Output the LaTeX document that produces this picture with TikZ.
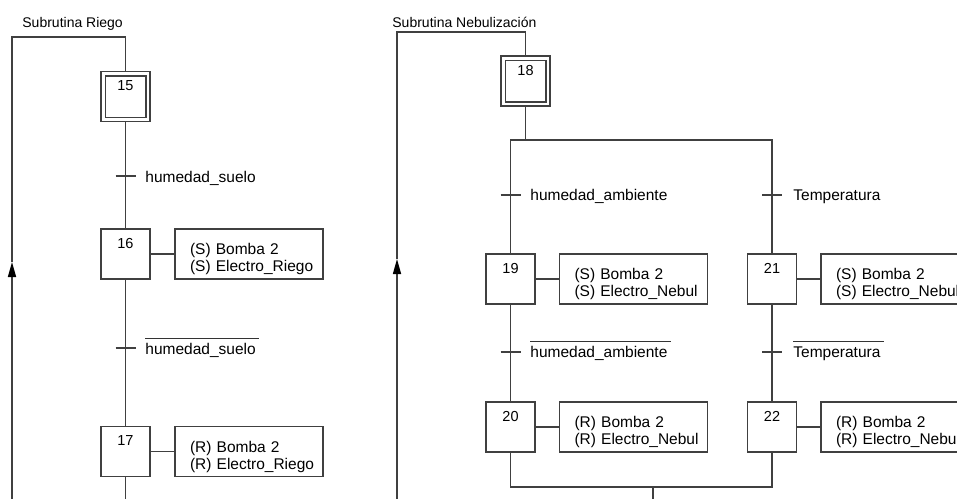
\documentclass[tikz,border=0pt]{standalone}
\usepackage{fontspec}
\setmainfont{Liberation Sans}
\usetikzlibrary{arrows.meta}
\hfuzz=4pt
\hyphenpenalty=10000
\newcommand{\firstline}{\rule{0pt}{11pt}}
\newcommand{\actlines}[2]{\firstline\mbox{#1}\\\mbox{#2}}
\begin{document}
\begin{tikzpicture}[x=0.5pt,y=-0.5pt,
  wire/.style={draw=black!75,line width=0.75pt},
  stepbox/.style={wire,rectangle,minimum width=24.5pt,minimum height=25pt,inner sep=0pt,
    text height=9.5pt,text depth=15.5pt,font=\fontsize{7.25}{8}\selectfont},
  actbox/.style={wire,rectangle,minimum width=74pt,minimum height=25pt,inner xsep=7.5pt,
    inner ysep=0pt,text width=59pt,align=left,font=\fontsize{7.75}{8.5}\selectfont},
  cond/.style={inner sep=0pt,anchor=base west,font=\fontsize{7.75}{8.5}\selectfont},
  title/.style={inner sep=0pt,anchor=base west,font=\fontsize{7}{8}\selectfont},
  negbar/.style={draw=black!80,line width=0.5pt},
  uparrow/.style={-{Triangle[width=4pt,length=7.5pt,color=black]}},
]
\useasboundingbox (0,0) rectangle (957,498);
\clip (0,0) rectangle (957,498);

% ---------- Subrutina Riego ----------
\node[title] (titR) at (22,27) {Subrutina Riego};
\node[stepbox] (s15) at (125.5,96.5) {15};
\draw[wire] ([shift={(2.5pt,2.5pt)}]s15.south west) rectangle ([shift={(-2.5pt,-2.5pt)}]s15.north east);
\node[stepbox] (s16) at (125.5,254) {16};
\node[actbox] (a16) at (249,254) {\actlines{(S) Bomba 2}{(S) Electro\_Riego}};
\node[stepbox] (s17) at (125.5,451.5) {17};
\node[actbox] (a17) at (249,451.5) {\actlines{(R) Bomba 2}{(R) Electro\_Riego}};

\coordinate (t1) at (125.5,176);
\coordinate (t2) at (125.5,348);
\coordinate (endR) at (125.5,510);
\coordinate (loopR) at (12,510);
\coordinate (arrR) at (12,262);
\coordinate (topR) at (12,37);

\draw[wire] (s15.south) -- (s16.north);
\draw[wire] (s16.south) -- (s17.north);
\draw[wire] (s17.south) -- (endR);
\draw[wire] (s16.east) -- (a16.west);
\draw[wire] (s17.east) -- (a17.west);

\draw[wire] ([xshift=-5pt]t1) -- ([xshift=5pt]t1);
\draw[wire] ([xshift=-5pt]t2) -- ([xshift=5pt]t2);
\node[cond] (c1) at (145,182) {humedad\_suelo};
\node[cond] (c2) at (145,354) {humedad\_suelo};
\draw[negbar] ([yshift=2pt]c2.north west) -- ([yshift=2pt,xshift=1.5pt]c2.north east);

\draw[wire,uparrow] (loopR) -- (arrR);
\draw[wire] (arrR) -- (topR) -| (s15.north);

% ---------- Subrutina Nebulizacion ----------
\node[title] (titN) at (392,27) {Subrutina Nebulización};
\node[stepbox] (s18) at (525.5,81) {18};
\draw[wire] ([shift={(2.5pt,2.5pt)}]s18.south west) rectangle ([shift={(-2.5pt,-2.5pt)}]s18.north east);

\node[stepbox] (s19) at (510.5,279) {19};
\node[actbox] (a19) at (633.5,279) {\actlines{(S) Bomba 2}{(S) Electro\_Nebul}};
\node[stepbox] (s21) at (772,279) {21};
\node[actbox] (a21) at (895,279) {\actlines{(S) Bomba 2}{(S) Electro\_Nebul}};
\node[stepbox] (s20) at (510.5,427) {20};
\node[actbox] (a20) at (633.5,427) {\actlines{(R) Bomba 2}{(R) Electro\_Nebul}};
\node[stepbox] (s22) at (772,427) {22};
\node[actbox] (a22) at (895,427) {\actlines{(R) Bomba 2}{(R) Electro\_Nebul}};

\coordinate (div) at (525.5,140);
\coordinate (conv) at (653,487);
\coordinate (endN) at (653,510);
\coordinate (t3) at (510.5,195);
\coordinate (t4) at (772,195);
\coordinate (t5) at (510.5,352);
\coordinate (t6) at (772,352);
\coordinate (loopN) at (397,510);
\coordinate (arrN) at (397,259);
\coordinate (topN) at (397,32);

\draw[wire] (s18.south) -- (div);
\draw[wire] (s19.north) |- (div) -| (s21.north);
\draw[wire] (s19.south) -- (s20.north);
\draw[wire] (s21.south) -- (s22.north);
\draw[wire] (s20.south) |- (conv) -| (s22.south);
\draw[wire] (conv) -- (endN);
\draw[wire] (s19.east) -- (a19.west);
\draw[wire] (s21.east) -- (a21.west);
\draw[wire] (s20.east) -- (a20.west);
\draw[wire] (s22.east) -- (a22.west);

\foreach \t in {t3,t4,t5,t6}
  \draw[wire] ([xshift=-5pt]\t) -- ([xshift=5pt]\t);
\node[cond] (c3) at (530,200) {humedad\_ambiente};
\node[cond] (c4) at (793,200) {Temperatura};
\node[cond] (c5) at (530,357) {humedad\_ambiente};
\node[cond] (c6) at (793,357) {Temperatura};
\draw[negbar] ([yshift=2pt]c5.north west) -- ([yshift=2pt,xshift=1.5pt]c5.north east);
\draw[negbar] ([yshift=2pt]c6.north west) -- ([yshift=2pt,xshift=1.5pt]c6.north east);

\draw[wire,uparrow] (loopN) -- (arrN);
\draw[wire] (arrN) -- (topN) -| (s18.north);
\end{tikzpicture}
\end{document}
